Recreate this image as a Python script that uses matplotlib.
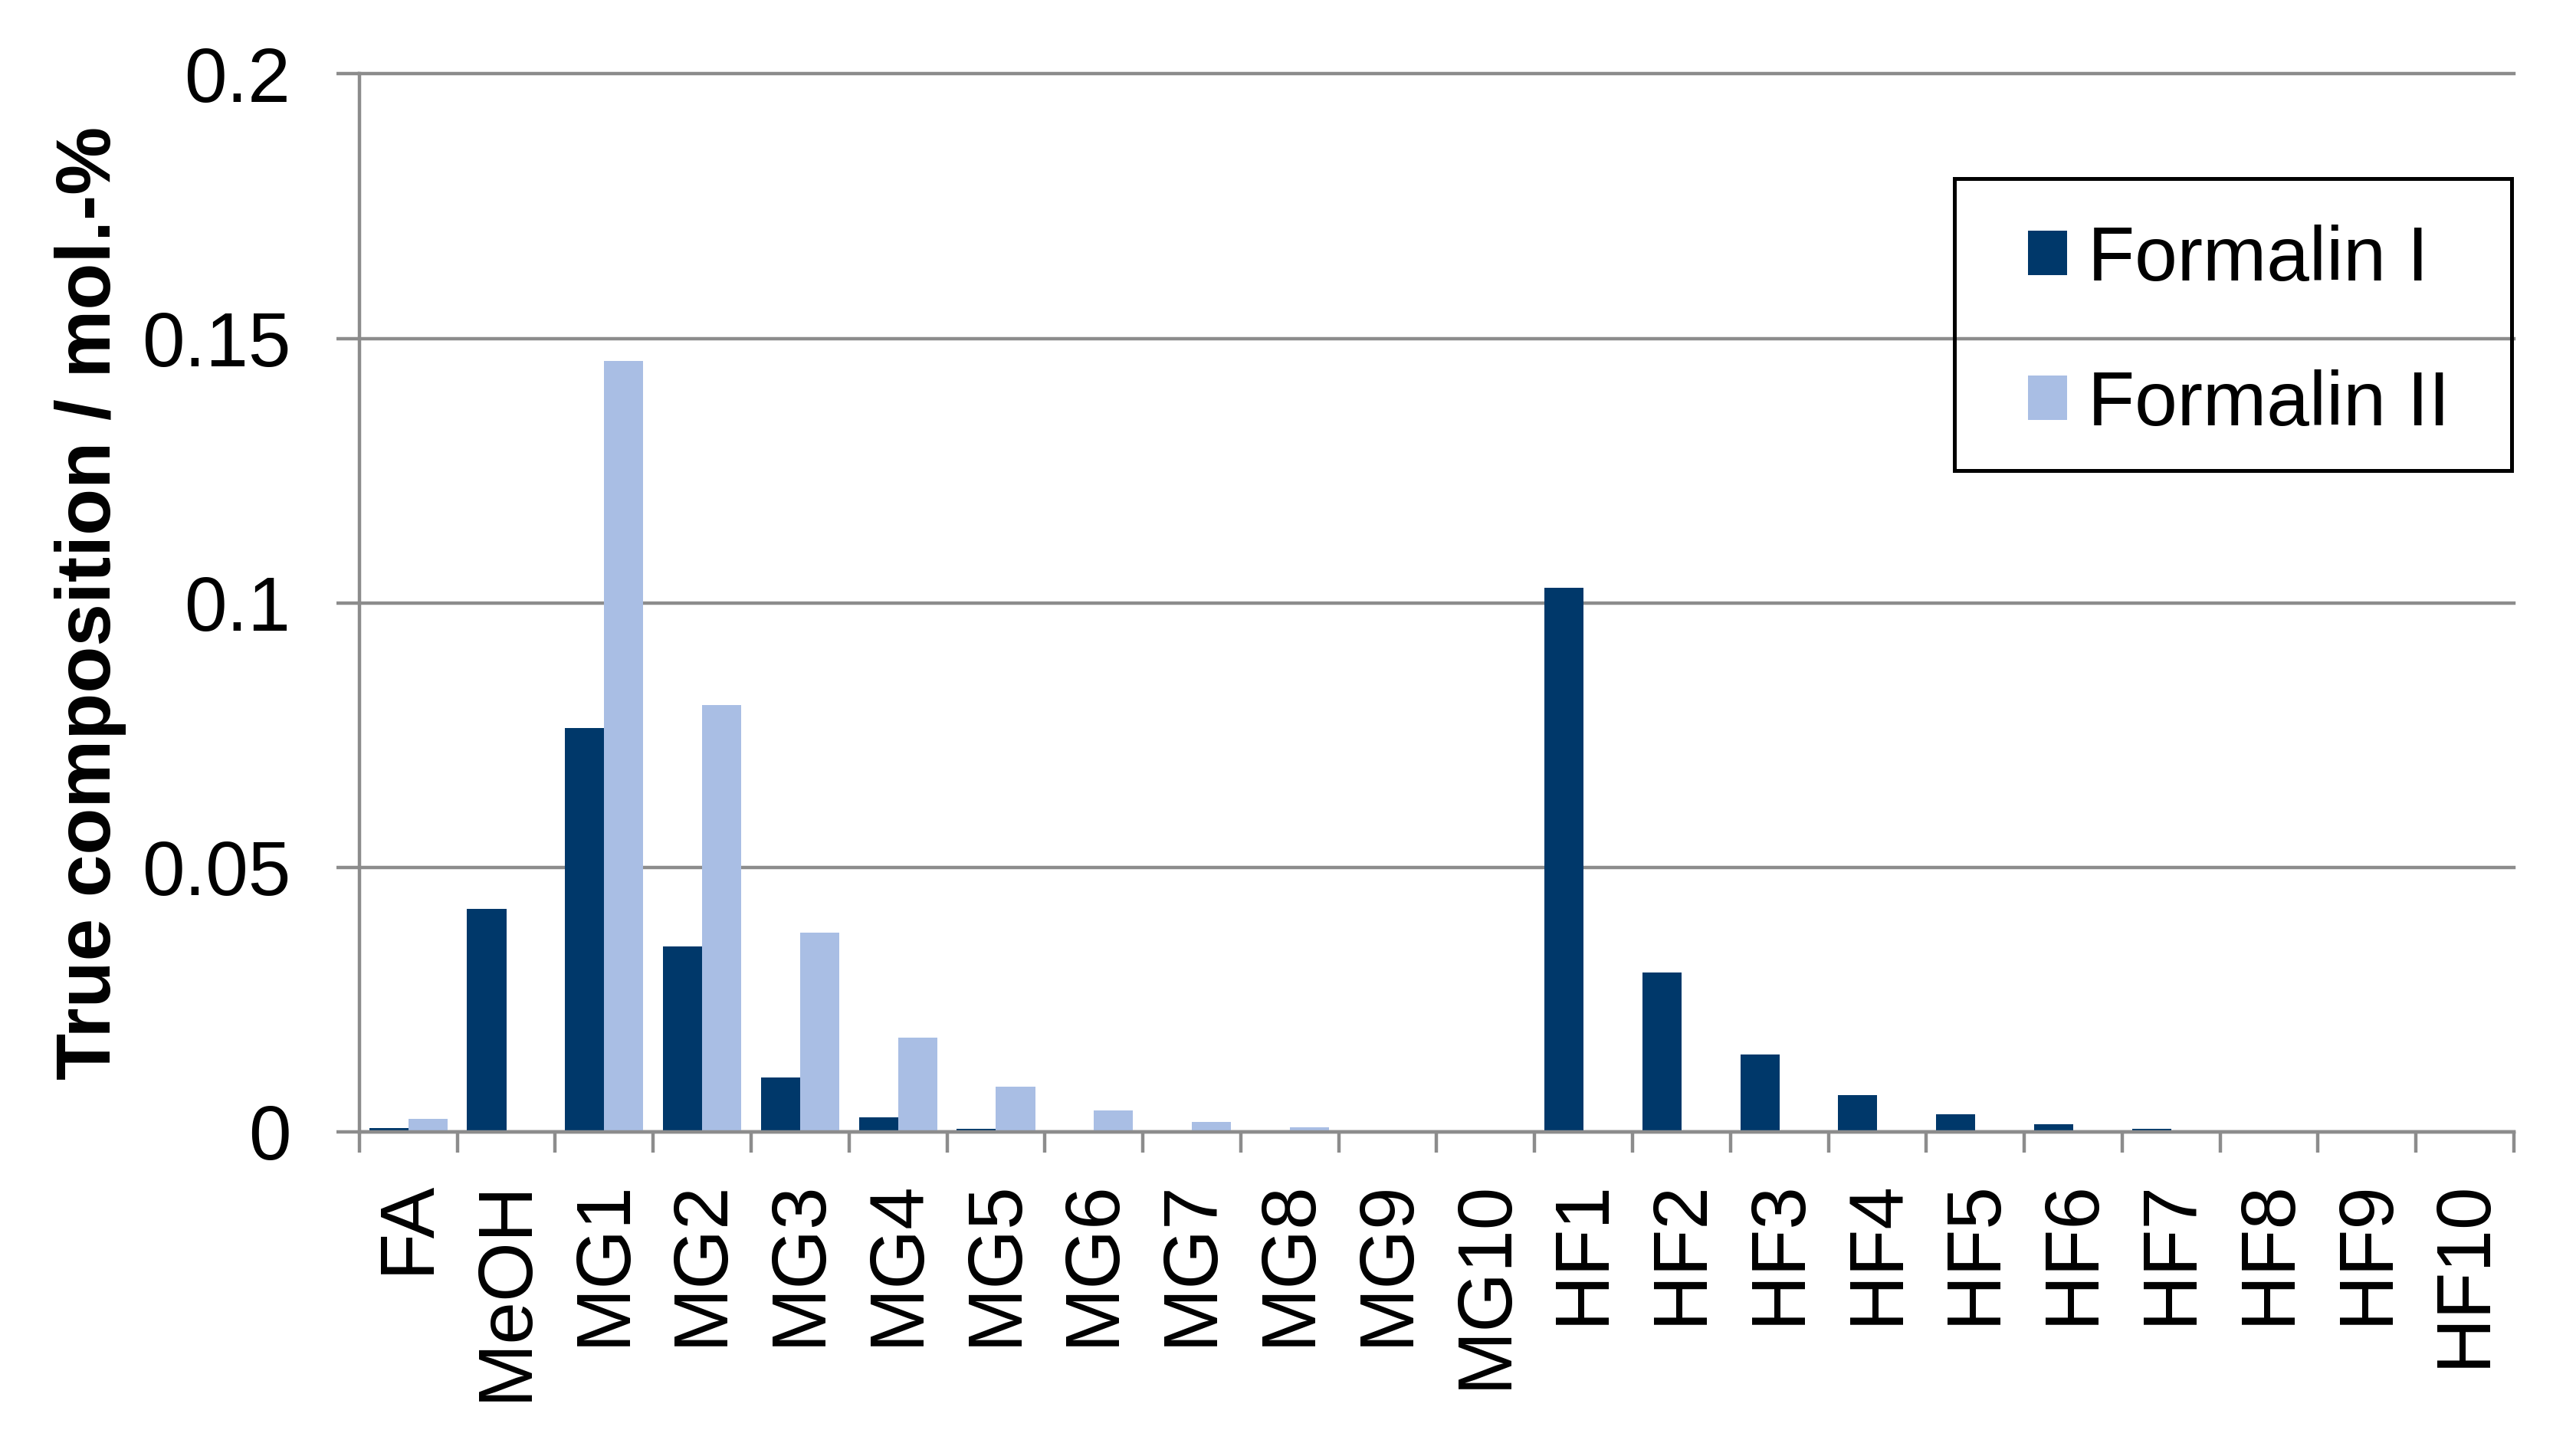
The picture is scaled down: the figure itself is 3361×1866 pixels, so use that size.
import numpy as np
import matplotlib
matplotlib.use('Agg')
import matplotlib.pyplot as plt
from matplotlib.patches import Rectangle

# categories and values
categories = ['FA', 'MeOH', 'MG1', 'MG2', 'MG3', 'MG4', 'MG5', 'MG6', 'MG7', 'MG8',
              'MG9', 'MG10', 'HF1', 'HF2', 'HF3', 'HF4', 'HF5', 'HF6', 'HF7', 'HF8',
              'HF9', 'HF10']
formalin_1 = [0.0007, 0.0422, 0.0764, 0.0351, 0.0103, 0.0028, 0.0006, 0, 0, 0,
              0, 0, 0.1028, 0.0301, 0.0146, 0.0070, 0.0033, 0.00145, 0.0006, 0.00015,
              0, 0]
formalin_2 = [0.0025, 0, 0.1457, 0.0807, 0.0376, 0.0178, 0.0085, 0.0041, 0.0019, 0.0009,
              0.0003, 0, 0, 0, 0, 0, 0, 0, 0, 0,
              0, 0]
y_ticks = [0, 0.05, 0.1, 0.15, 0.2]
y_tick_labels = ['0', '0.05', '0.1', '0.15', '0.2']

plt.rcParams['font.family'] = ['Liberation Sans', 'DejaVu Sans']

dark = '#00386A'
light = '#A9BEE4'
gray = '#8C8C8C'
lw = 3.2

fig = plt.figure(figsize=(33.61, 18.66), dpi=100)
ax = fig.add_axes([0.1395, 0.2085, 0.9759 - 0.1395, 0.9483 - 0.2085])

x = np.arange(len(categories))
ax.bar(x - 0.2, formalin_1, width=0.4, color=dark, label='Formalin I', zorder=3)
ax.bar(x + 0.2, formalin_2, width=0.4, color=light, label='Formalin II', zorder=3)

ax.set_xlim(-0.5, len(categories) - 0.5)
ax.set_ylim(0, 0.2)

# y axis
ax.set_yticks(y_ticks)
ax.set_yticklabels(y_tick_labels, fontsize=72)
ax.tick_params(axis='y', direction='out', length=21.6, width=lw, color=gray, pad=43)
ax.yaxis.grid(True, color=gray, linewidth=lw, zorder=0)
ax.set_axisbelow(True)
for gl in ax.get_ygridlines():
    gl.set_clip_on(False)

# x axis: labels at centres, ticks at boundaries
ax.set_xticks(x)
ax.set_xticklabels(categories, fontsize=72, rotation=90, ha='center', va='top')
ax.tick_params(axis='x', which='major', length=0, pad=45)
ax.set_xticks(np.arange(len(categories) + 1) - 0.5, minor=True)
ax.tick_params(axis='x', which='minor', direction='out', length=19.4, width=lw, color=gray)

for side in ['top', 'right']:
    ax.spines[side].set_visible(False)
for side in ['left', 'bottom']:
    ax.spines[side].set_color(gray)
    ax.spines[side].set_linewidth(lw)
ax.spines['bottom'].set_zorder(4)

ax.set_ylabel('True composition / mol.-%', fontsize=72, fontweight='bold')
ax.yaxis.set_label_coords(-0.108, 0.5)

# legend
fig.legend(loc='center left', bbox_to_anchor=(0.7873, 0.7674), frameon=False,
           fontsize=72, borderpad=0, borderaxespad=0, handlelength=0.51,
           handleheight=0.51, handletextpad=0.27, labelspacing=0.95)
fig.add_artist(Rectangle((0.7587, 0.6710), 0.2163, 0.2042, transform=fig.transFigure,
                         fill=False, edgecolor='black', linewidth=3.6))

fig.savefig('out.png', dpi=100)
